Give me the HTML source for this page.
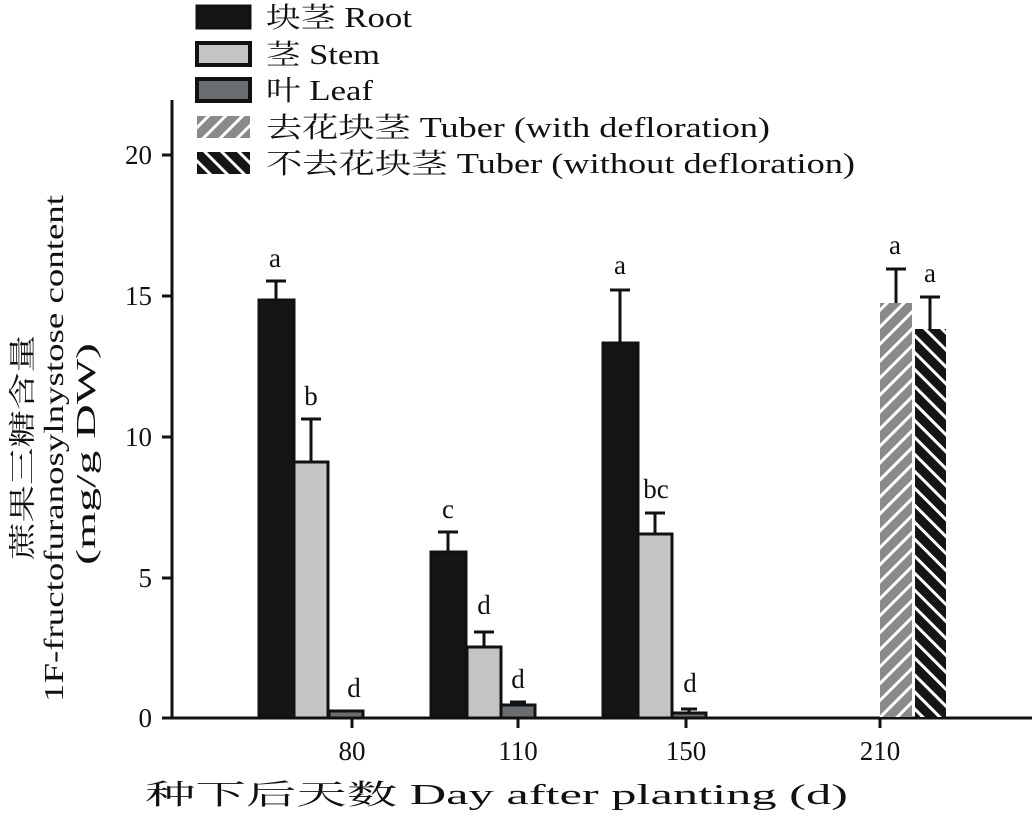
<!DOCTYPE html>
<html><head><meta charset="utf-8"><style>
body{margin:0;background:#fff}
svg text{font-family:"Liberation Serif","Noto Serif CJK SC",serif;fill:#111}
</style></head><body>
<svg width="1034" height="812" viewBox="0 0 1034 812">
<defs>
<pattern id="p1" width="12" height="12" patternUnits="userSpaceOnUse" patternTransform="rotate(45)">
<rect width="12" height="12" fill="#8a8a8a"/><rect width="3" height="12" fill="#fff"/></pattern>
<pattern id="p2" width="12" height="12" patternUnits="userSpaceOnUse" patternTransform="rotate(-45)">
<rect width="12" height="12" fill="#151515"/><rect width="3" height="12" fill="#fff"/></pattern>
</defs>
<g stroke="#111" stroke-width="3">
<line x1="172" y1="100" x2="172" y2="719"/>
<line x1="171" y1="718" x2="1032" y2="718"/>
<line x1="162" y1="155" x2="172" y2="155"/>
<line x1="162" y1="296" x2="172" y2="296"/>
<line x1="162" y1="437" x2="172" y2="437"/>
<line x1="162" y1="578" x2="172" y2="578"/>
<line x1="162" y1="718" x2="172" y2="718"/>
<line x1="352" y1="718" x2="352" y2="728"/>
<line x1="518" y1="718" x2="518" y2="728"/>
<line x1="686" y1="718" x2="686" y2="728"/>
<line x1="880" y1="718" x2="880" y2="728"/>
</g>
<g font-size="27" text-anchor="end">
<text x="152" y="164">20</text><text x="152" y="305">15</text><text x="152" y="446">10</text><text x="152" y="587">5</text><text x="152" y="727">0</text>
</g>
<g font-size="27" text-anchor="middle">
<text x="352" y="760">80</text><text x="518" y="760">110</text><text x="686" y="760">150</text><text x="880" y="760">210</text>
</g>
<g stroke="#111" stroke-width="3">
<line x1="276" y1="281" x2="276" y2="300"/><line x1="266" y1="281" x2="286" y2="281"/>
<line x1="311" y1="419" x2="311" y2="462"/><line x1="301" y1="419" x2="321" y2="419"/>
<line x1="448" y1="532" x2="448" y2="552"/><line x1="438" y1="532" x2="458" y2="532"/>
<line x1="484" y1="632" x2="484" y2="647"/><line x1="474" y1="632" x2="494" y2="632"/>
<line x1="518" y1="702" x2="518" y2="705"/><line x1="510" y1="702" x2="526" y2="702"/>
<line x1="620" y1="290" x2="620" y2="343"/><line x1="610" y1="290" x2="630" y2="290"/>
<line x1="655" y1="513" x2="655" y2="534"/><line x1="645" y1="513" x2="665" y2="513"/>
<line x1="689" y1="709" x2="689" y2="713"/><line x1="681" y1="709" x2="697" y2="709"/>
<line x1="896" y1="269" x2="896" y2="303"/><line x1="886" y1="269" x2="906" y2="269"/>
<line x1="930" y1="297" x2="930" y2="329"/><line x1="920" y1="297" x2="940" y2="297"/>
</g>
<g stroke="#111" stroke-width="3">
<rect x="259" y="300" width="35" height="418" fill="#151515"/>
<rect x="294" y="462" width="34" height="256" fill="#c4c4c6"/>
<rect x="329" y="711" width="34" height="7" fill="#6a6e70"/>
<rect x="431" y="552" width="35" height="166" fill="#151515"/>
<rect x="467" y="647" width="34" height="71" fill="#c4c4c6"/>
<rect x="501" y="705" width="34" height="13" fill="#6a6e70"/>
<rect x="603" y="343" width="35" height="375" fill="#151515"/>
<rect x="638" y="534" width="34" height="184" fill="#c4c4c6"/>
<rect x="672" y="713" width="34" height="5" fill="#6a6e70"/>
</g>
<rect x="880" y="303" width="32" height="414" fill="url(#p1)"/>
<rect x="915" y="329" width="31" height="388" fill="url(#p2)"/>
<g font-size="27" text-anchor="middle">
<text x="275" y="267">a</text><text x="311" y="405">b</text><text x="354" y="697">d</text>
<text x="448" y="518">c</text><text x="484" y="614">d</text><text x="518" y="688">d</text>
<text x="620" y="274">a</text><text x="656" y="498">bc</text><text x="690" y="692">d</text>
<text x="895" y="254">a</text><text x="930" y="282">a</text>
</g>
<rect x="197" y="6" width="53" height="22" fill="#151515" stroke="#111" stroke-width="3"/>
<rect x="197" y="43" width="53" height="22" fill="#c4c4c6" stroke="#111" stroke-width="4"/>
<rect x="197" y="79" width="53" height="22" fill="#6a6e70" stroke="#111" stroke-width="4"/>
<rect x="197" y="116" width="53" height="22" fill="url(#p1)"/>
<rect x="197" y="152" width="53" height="22" fill="url(#p2)"/>
<g font-size="28">
<text x="266" y="27" textLength="146" lengthAdjust="spacingAndGlyphs">块茎 Root</text>
<text x="266" y="64" textLength="114" lengthAdjust="spacingAndGlyphs">茎 Stem</text>
<text x="266" y="100" textLength="107" lengthAdjust="spacingAndGlyphs">叶 Leaf</text>
<text x="266" y="137" textLength="504" lengthAdjust="spacingAndGlyphs">去花块茎 Tuber (with defloration)</text>
<text x="266" y="173" textLength="589" lengthAdjust="spacingAndGlyphs">不去花块茎 Tuber (without defloration)</text>
</g>
<text x="145" y="804" font-size="28" textLength="703" lengthAdjust="spacingAndGlyphs">种下后天数 Day after planting (d)</text>
<g font-size="27">
<text transform="translate(32,560) rotate(-90)" textLength="225" lengthAdjust="spacingAndGlyphs">蔗果三糖含量</text>
<text transform="translate(63,702) rotate(-90)" textLength="507" lengthAdjust="spacingAndGlyphs">1F-fructofuranosylnystose content</text>
<text transform="translate(95,565) rotate(-90)" textLength="222" lengthAdjust="spacingAndGlyphs">(mg/g DW)</text>
</g>
</svg>
</body></html>
